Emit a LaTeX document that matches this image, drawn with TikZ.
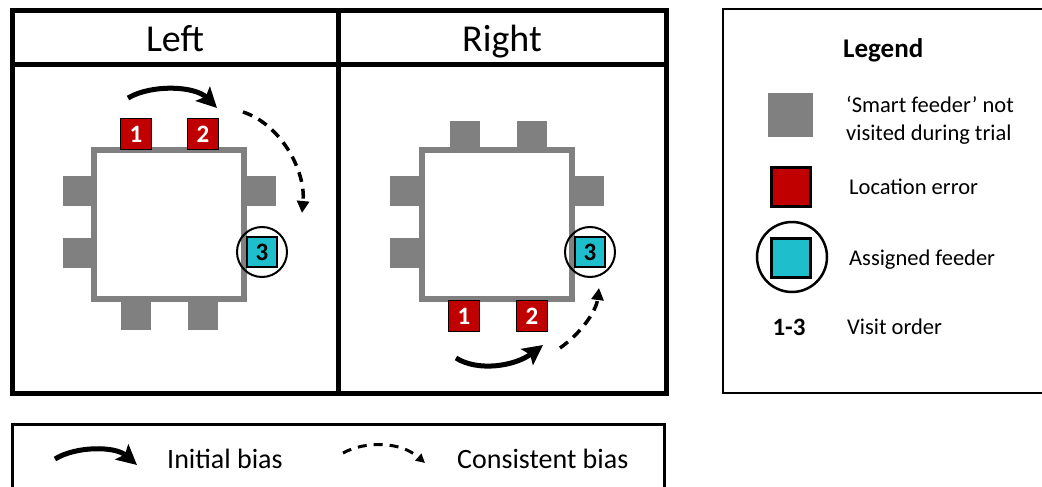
\documentclass[tikz,border=0pt]{standalone}
\usepackage{fontspec}
\setmainfont{Carlito}
\usetikzlibrary{arrows.meta}
\definecolor{feedred}{RGB}{192,0,0}
\definecolor{feedcyan}{RGB}{30,190,205}
\definecolor{feedgray}{RGB}{128,128,128}
\begin{document}
\begin{tikzpicture}[x=1pt,y=-1pt,
  frame/.style={line width=5pt},
  tablebox/.style={draw=feedgray, line width=6pt, fill=white, minimum width=150pt, minimum height=149pt, inner sep=0pt},
  grayfeed/.style={fill=feedgray, minimum size=30pt, inner sep=0pt},
  redfeed/.style={fill=feedred, draw=black, line width=0.8pt, minimum size=31pt, inner sep=0pt, text=white, font=\fontsize{25}{27}\selectfont\bfseries},
  cyanfeed/.style={fill=feedcyan, draw=black, line width=1.2pt, minimum size=30pt, inner sep=0pt, text=black, font=\fontsize{25}{27}\selectfont\bfseries},
  ring/.style={circle, draw, line width=2pt, minimum size=50pt, inner sep=0pt},
  initarrow/.style={line width=5pt, -{Stealth[length=20pt,width=20pt,inset=4pt]}},
  consarrow/.style={line width=3.5pt, dash pattern=on 10pt off 7pt, -{Triangle[length=12pt,width=12pt]}},
  header/.style={font=\fontsize{38}{44}\selectfont, anchor=base, inner sep=0pt},
  legtext/.style={font=\fontsize{22.5}{27}\selectfont, anchor=base west, inner sep=0pt},
  biastext/.style={font=\fontsize{28}{32}\selectfont, anchor=base west, inner sep=0pt}
]
\useasboundingbox (0,0) rectangle (1042,487);
\clip (0,0) rectangle (1042,487);
\fill[white] (0,0) rectangle (1042,487);

% ---------- main frame ----------
\draw[frame] (12,11) rectangle (666,393);
\draw[frame] (12,65) -- (666,65);
\draw[frame] (338,11) -- (338,393);
\node[header] (hL) at (175,52) {Left};
\node[header] (hR) at (502,52) {Right};

% ---------- left panel ----------
\node[grayfeed] (gL1) at (78,191) {};
\node[grayfeed] (gL2) at (78,253) {};
\node[grayfeed] (gL3) at (261,191) {};
\node[grayfeed] (gL4) at (136,315) {};
\node[grayfeed] (gL5) at (203,315) {};
\node[tablebox] (tabL) at (169,224.5) {};
\node[redfeed] (rL1) at (136,134) {1};
\node[redfeed] (rL2) at (203,134) {2};
\node[cyanfeed] (cL3) at (262,252) {3};
\node[ring] (ringL) at (262,252) {};
\coordinate (aLs) at (128,98);
\coordinate (aLe) at (217,108);
\coordinate (dLs) at (243,112);
\coordinate (dLe) at (302,213);
\draw[initarrow] (aLs) .. controls (152,84) and (195,86) .. (aLe);
\draw[consarrow] (dLs) .. controls (280,124) and (306,170) .. (dLe);

% ---------- right panel ----------
\node[grayfeed] (gR1) at (465,136) {};
\node[grayfeed] (gR2) at (532,136) {};
\node[grayfeed] (gR3) at (405,191) {};
\node[grayfeed] (gR4) at (405,253) {};
\node[grayfeed] (gR5) at (589,191) {};
\node[tablebox] (tabR) at (497,224.5) {};
\node[redfeed] (rR1) at (464,316) {1};
\node[redfeed] (rR2) at (532,316) {2};
\node[cyanfeed] (cR3) at (590,252) {3};
\node[ring] (ringR) at (590,252) {};
\coordinate (aRs) at (456,358);
\coordinate (aRe) at (543,345);
\coordinate (dRs) at (560,348);
\coordinate (dRe) at (599,288);
\draw[initarrow] (aRs) .. controls (478,372) and (515,366) .. (aRe);
\draw[consarrow] (dRs) .. controls (580,334) and (596,312) .. (dRe);

% ---------- legend ----------
\draw[line width=2.5pt] (723,9) rectangle (1060,393);
\node[font=\fontsize{27}{30}\selectfont\bfseries, anchor=base west, inner sep=0pt] (legT) at (843,58) {Legend};
\node[fill=feedgray, minimum width=45pt, minimum height=44pt, inner sep=0pt] (legG) at (790.5,115) {};
\node[legtext] (legGt1) at (846,113) {‘Smart feeder’ not};
\node[legtext] (legGt2) at (846,140) {visited during trial};
\node[fill=feedred, draw=black, line width=3pt, minimum size=39pt, inner sep=0pt] (legR) at (791,186.5) {};
\node[legtext] (legRt) at (849,194) {Location error};
\node[fill=feedcyan, draw=black, line width=3pt, minimum size=39pt, inner sep=0pt] (legC) at (791,257.5) {};
\node[circle, draw, line width=2.5pt, minimum size=70pt, inner sep=0pt] (legCr) at (792,257) {};
\node[legtext] (legCt) at (849,265) {Assigned feeder};
\node[font=\fontsize{25}{28}\selectfont\bfseries, anchor=base, inner sep=0pt] (legN) at (789,335) {1-3};
\node[legtext] (legNt) at (847,334) {Visit order};

% ---------- bias legend ----------
\draw[line width=3pt] (12,500) -- (12,424) -- (664,424) -- (664,500);
\coordinate (bAs) at (55,459);
\coordinate (bAe) at (137,465);
\draw[initarrow] (bAs) .. controls (76,446) and (115,446) .. (bAe);
\node[biastext] (bAt) at (167,468) {Initial bias};
\coordinate (bDs) at (343,453);
\coordinate (bDe) at (425,463);
\draw[line width=3pt, dash pattern=on 9pt off 7pt, -{Triangle[length=9pt,width=9pt]}] (bDs) .. controls (365,441) and (400,441) .. (bDe);
\node[biastext] (bDt) at (457,468) {Consistent bias};
\end{tikzpicture}
\end{document}
